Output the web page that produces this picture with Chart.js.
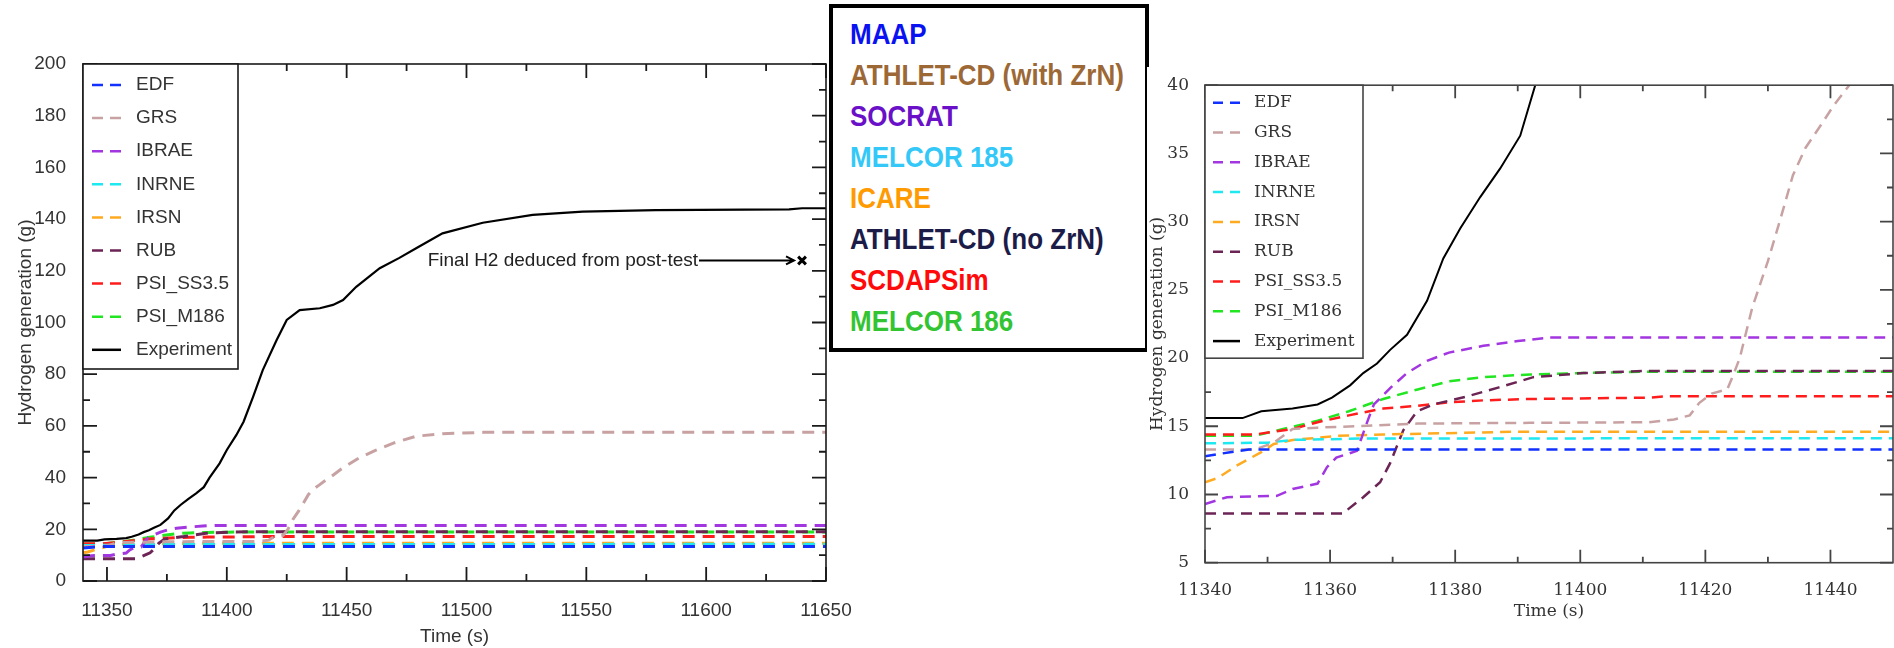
<!DOCTYPE html>
<html>
<head>
<meta charset="utf-8">
<script src="https://cdn.jsdelivr.net/npm/chart.js@4.4.1/dist/chart.umd.min.js"></script>
<style>
    html, body { margin: 0; padding: 0; background: #fff; }
    body { width: 1894px; height: 648px; position: relative; overflow: hidden; }
    #left { position: absolute; left: 0; top: 0; }
    #right { position: absolute; left: 1147px; top: 67px; background: #fff; z-index: 2; }
    #codes {
        position: absolute; left: 829px; top: 4px; width: 320px; height: 348px;
        box-sizing: border-box; border: 4px solid #000; background: #fff; z-index: 1;
        padding: 6px 0 0 17px;
        font-family: "Liberation Sans", Arial, sans-serif; font-weight: bold; font-size: 26px;
    }
    #codes div { height: 41px; line-height: 41px; white-space: nowrap; transform: scaleY(1.17); transform-origin: 0 50%; }
</style>
</head>
<body>
<canvas id="left" width="880" height="648"></canvas>
<div id="codes">
    <div style="color:#0a12f2">MAAP</div>
    <div style="color:#9c6836">ATHLET-CD (with ZrN)</div>
    <div style="color:#6a10c8">SOCRAT</div>
    <div style="color:#33c8f8">MELCOR 185</div>
    <div style="color:#ff9a00">ICARE</div>
    <div style="color:#1c1c48">ATHLET-CD (no ZrN)</div>
    <div style="color:#ff0a0a">SCDAPSim</div>
    <div style="color:#33c433">MELCOR 186</div>
</div>
<canvas id="right" width="747" height="581"></canvas>
<script>
// --- datos (tiempo en s, H2 en g) ---
const edfTime = [11340, 11344, 11347, 11650];
const edfH2 = [12.8, 13.1, 13.3, 13.3];

const grsTime = [11340, 11348, 11351, 11354, 11358, 11364, 11374, 11392, 11411, 11415, 11417.5, 11419, 11421, 11423.5, 11424.5, 11425.5, 11427.5, 11430, 11432, 11434, 11436, 11438.5, 11440.5, 11443, 11448, 11455, 11462, 11470, 11479, 11490, 11507, 11650];
const grsH2 = [13.3, 13.3, 13.8, 14.8, 14.9, 15.0, 15.2, 15.25, 15.3, 15.5, 15.8, 16.7, 17.4, 17.7, 18.8, 20.0, 23.7, 27.1, 30.2, 33.4, 35.4, 37.1, 38.5, 40.0, 43.5, 47.5, 50.5, 53.5, 56.0, 57.0, 57.5, 57.5];

const ibraeTime = [11340, 11343.5, 11351.5, 11354, 11358, 11359.5, 11361, 11364.3, 11366, 11367, 11369.6, 11372.3, 11375.5, 11379, 11384.5, 11390, 11395, 11650];
const ibraeH2 = [9.3, 9.8, 9.9, 10.4, 10.8, 12.0, 12.7, 13.2, 15.4, 16.6, 17.8, 18.9, 19.8, 20.4, 20.9, 21.25, 21.5, 21.5];

const inrneTime = [11340, 11350, 11354, 11365, 11650];
const inrneH2 = [13.75, 13.8, 14.0, 14.1, 14.2];

const irsnTime = [11340, 11342, 11345, 11349, 11351, 11354, 11358, 11361, 11368.5, 11390, 11650];
const irsnH2 = [10.9, 11.2, 12.1, 13.1, 13.7, 14.0, 14.15, 14.3, 14.4, 14.6, 14.6];

const rubTime = [11340, 11362, 11365.3, 11368, 11369.6, 11371.7, 11373.9, 11376.5, 11382, 11387, 11392.5, 11400.5, 11410, 11650];
const rubH2 = [8.6, 8.6, 9.8, 10.9, 12.3, 14.7, 16.1, 16.6, 17.2, 17.85, 18.6, 18.9, 19.05, 19.05];

const ss35Time = [11340, 11348, 11354, 11358, 11363, 11368.5, 11374, 11379, 11384.5, 11392, 11411, 11414, 11650];
const ss35H2 = [14.4, 14.4, 14.8, 15.3, 15.8, 16.3, 16.5, 16.75, 16.9, 17.0, 17.1, 17.2, 17.2];

const m186Time = [11340, 11348, 11352.5, 11358, 11363, 11368.5, 11374, 11379, 11384.5, 11392, 11400.5, 11410, 11650];
const m186H2 = [14.3, 14.3, 14.8, 15.4, 16.1, 17.0, 17.7, 18.3, 18.6, 18.8, 18.9, 19.0, 19.0];

const expTime = [11340, 11346, 11349, 11354, 11358, 11360.3, 11363.2, 11365.3, 11367.5, 11369.6, 11372.3, 11375.5, 11378.1, 11380.8, 11384, 11387.2, 11390.4, 11392.8, 11397, 11400, 11404, 11407, 11411, 11415, 11420.7, 11425, 11430.4, 11438.8, 11444.3, 11448.5, 11454, 11463.8, 11472, 11479, 11490, 11506.8, 11527.6, 11548.5, 11579, 11634.6, 11640, 11650];
const expH2 = [15.6, 15.6, 16.1, 16.3, 16.6, 17.1, 18.0, 18.9, 19.6, 20.6, 21.7, 24.2, 27.3, 29.5, 31.8, 33.9, 36.3, 40.0, 45.5, 50.7, 56.5, 61.6, 71.3, 81.6, 93.0, 101.0, 104.8, 105.5, 106.8, 108.7, 113.8, 121.0, 125.0, 128.7, 134.5, 138.6, 141.6, 142.9, 143.5, 143.8, 144.2, 144.2];

// valor final deducido del post-test
const postTestTime = [11640];
const postTestH2 = [124];

const seriesNames = ['EDF', 'GRS', 'IBRAE', 'INRNE', 'IRSN', 'RUB', 'PSI_SS3.5', 'PSI_M186', 'Experiment'];
const seriesTimes = [edfTime, grsTime, ibraeTime, inrneTime, irsnTime, rubTime, ss35Time, m186Time, expTime];
const seriesValues = [edfH2, grsH2, ibraeH2, inrneH2, irsnH2, rubH2, ss35H2, m186H2, expH2];
const seriesColors = ['#1230ff', '#c8a2a2', '#a236e0', '#1ee8f0', '#ffab22', '#6c2454', '#ff1c1c', '#22e622', '#000000'];

// ejes
const leftXTicks = [11350, 11400, 11450, 11500, 11550, 11600, 11650];
const leftXMinor = [11375, 11425, 11475, 11525, 11575, 11625];
const leftYTicks = [0, 20, 40, 60, 80, 100, 120, 140, 160, 180, 200];
const leftYMinor = [10, 30, 50, 70, 90, 110, 130, 150, 170, 190];
const rightXTicks = [11340, 11360, 11380, 11400, 11420, 11440];
const rightXMinor = [11350, 11370, 11390, 11410, 11430];
const rightYTicks = [5, 10, 15, 20, 25, 30, 35, 40];
const rightYMinor = [7.5, 12.5, 17.5, 22.5, 27.5, 32.5, 37.5];

const SANS = '"Liberation Sans", Arial, sans-serif';
const SERIF = '"DejaVu Serif", serif';

// --- marco, ticks hacia dentro, leyenda y nota ---
// (las opciones van por closure: el resolver de Chart.js indexa los arrays)
function makeDecor(o) {
    return {
        id: 'decor',
        afterDatasetsDraw(chart) {
            const ctx = chart.ctx;
            const a = chart.chartArea;
            const x = chart.scales.x;
            const y = chart.scales.y;
            ctx.save();
            ctx.setLineDash([]);
            ctx.strokeStyle = o.axisColor;
            ctx.lineWidth = o.tickWidth;

            ctx.beginPath();
            [[o.xMajor, o.majorLen], [o.xMinor, o.minorLen]].forEach(([vals, len]) => {
                vals.forEach(v => {
                    const px = x.getPixelForValue(v);
                    ctx.moveTo(px, a.bottom); ctx.lineTo(px, a.bottom - len);
                    ctx.moveTo(px, a.top); ctx.lineTo(px, a.top + len);
                });
            });
            [[o.yMajor, o.majorLen], [o.yMinor, o.minorLen]].forEach(([vals, len]) => {
                vals.forEach(v => {
                    const py = y.getPixelForValue(v);
                    ctx.moveTo(a.left, py); ctx.lineTo(a.left + len, py);
                    ctx.moveTo(a.right, py); ctx.lineTo(a.right - len, py);
                });
            });
            ctx.stroke();

            ctx.lineWidth = o.axisWidth;
            ctx.strokeRect(a.left, a.top, a.right - a.left, a.bottom - a.top);

            // leyenda
            const L = o.legend;
            ctx.fillStyle = '#fff';
            ctx.fillRect(a.left, a.top, L.width, L.height);
            ctx.strokeRect(a.left, a.top, L.width, L.height);
            ctx.font = L.font;
            ctx.textBaseline = 'middle';
            ctx.textAlign = 'left';
            chart.data.datasets.slice(0, seriesNames.length).forEach((ds, i) => {
                const yy = a.top + L.first + i * L.step;
                ctx.strokeStyle = ds.borderColor;
                ctx.lineWidth = L.lineWidth;
                ctx.setLineDash(ds.label === 'Experiment' ? [] : L.dash);
                ctx.beginPath();
                ctx.moveTo(a.left + L.sampleX, yy);
                ctx.lineTo(a.left + L.sampleX + L.sampleLen, yy);
                ctx.stroke();
                ctx.setLineDash([]);
                ctx.fillStyle = o.textColor;
                ctx.fillText(ds.label, a.left + L.textX, yy);
            });

            // nota con flecha
            if (o.note) {
                const mx = x.getPixelForValue(postTestTime[0]);
                const my = y.getPixelForValue(postTestH2[0]);
                ctx.strokeStyle = '#000';
                ctx.fillStyle = '#222';
                ctx.lineWidth = 2;
                ctx.font = o.note.font;
                ctx.textAlign = 'right';
                ctx.fillText(o.note.text, mx - 104, my);
                ctx.beginPath();
                ctx.moveTo(mx - 103, my); ctx.lineTo(mx - 8, my);
                ctx.moveTo(mx - 16, my - 4); ctx.lineTo(mx - 8, my); ctx.lineTo(mx - 16, my + 4);
                ctx.stroke();
            }
            ctx.restore();
        }
    };
}

function makeDatasets(dash, dashWidth, solidWidth) {
    return seriesNames.map((name, i) => ({
        label: name,
        data: seriesTimes[i].map((t, k) => ({ x: t, y: seriesValues[i][k] })),
        borderColor: seriesColors[i],
        borderWidth: name === 'Experiment' ? solidWidth : dashWidth,
        borderDash: name === 'Experiment' ? [] : dash,
        pointRadius: 0,
        tension: 0,
        fill: false
    }));
}

function axis(min, max, ticks, size, pad, font, fitKey, fitVal, title, titlePad) {
    return {
        type: 'linear', min: min, max: max,
        afterBuildTicks: s => { s.ticks = ticks.map(v => ({ value: v })); },
        afterFit: s => { s[fitKey] = fitVal; },
        grid: { display: false },
        border: { display: false },
        ticks: {
            autoSkip: false, maxRotation: 0, padding: pad, color: '#333',
            font: { family: font, size: size },
            callback: v => String(v)
        },
        title: { display: true, text: title, color: '#333', font: { family: font, size: size }, padding: titlePad }
    };
}

// --- gráfico izquierdo (vista completa) ---
const leftSets = makeDatasets([12, 8], 3, 2.2);
leftSets.push({
    type: 'scatter',
    label: 'post-test',
    data: postTestTime.map((t, k) => ({ x: t, y: postTestH2[k] })),
    pointStyle: 'crossRot', pointRadius: 5.5, borderColor: '#000', borderWidth: 3
});

new Chart(document.getElementById('left'), {
    type: 'line',
    data: { datasets: leftSets },
    options: {
        responsive: false, animation: false,
        layout: { padding: { top: 64, right: 54, left: 0, bottom: 0 } },
        plugins: { legend: { display: false }, tooltip: { enabled: false } },
        scales: {
            x: axis(11340, 11650, leftXTicks, 19, 10.5, SANS, 'height', 67, 'Time (s)', { top: 0, bottom: 0 }),
            y: axis(0, 200, leftYTicks, 19, 9, SANS, 'width', 83, 'Hydrogen generation (g)', { top: 14, bottom: 0 })
        }
    },
    plugins: [makeDecor({
        axisColor: '#1a1a1a', axisWidth: 1.6, tickWidth: 1.8, textColor: '#333',
        majorLen: 14, minorLen: 7,
        xMajor: leftXTicks, xMinor: leftXMinor, yMajor: leftYTicks, yMinor: leftYMinor,
        legend: { width: 155, height: 305, first: 21, step: 33.1, sampleX: 9, sampleLen: 29, textX: 53,
                  dash: [11, 7], lineWidth: 2.5, font: '19px ' + SANS },
        note: { text: 'Final H2 deduced from post-test', font: '19px ' + SANS }
    })]
});

// --- gráfico derecho (zoom inicial) ---
new Chart(document.getElementById('right'), {
    type: 'line',
    data: { datasets: makeDatasets([11, 7], 2.5, 2) },
    options: {
        responsive: false, animation: false,
        layout: { padding: { top: 15.5, right: 1, left: 0, bottom: 0 } },
        plugins: { legend: { display: false }, tooltip: { enabled: false } },
        scales: {
            x: axis(11340, 11450, rightXTicks, 17, 10, SERIF, 'height', 85.3, 'Time (s)', { top: 0, bottom: 26 }),
            y: axis(5, 40, rightYTicks, 17, 8, SERIF, 'width', 58, 'Hydrogen generation (g)', { top: 0, bottom: 0 })
        }
    },
    plugins: [makeDecor({
        axisColor: '#444', axisWidth: 1.6, tickWidth: 1.8, textColor: '#333',
        majorLen: 13, minorLen: 6,
        xMajor: rightXTicks, xMinor: rightXMinor, yMajor: rightYTicks, yMinor: rightYMinor,
        legend: { width: 158, height: 273, first: 17.5, step: 29.8, sampleX: 8, sampleLen: 27, textX: 49,
                  dash: [10, 7], lineWidth: 2.5, font: '17px ' + SERIF }
    })]
});
</script>
</body>
</html>
